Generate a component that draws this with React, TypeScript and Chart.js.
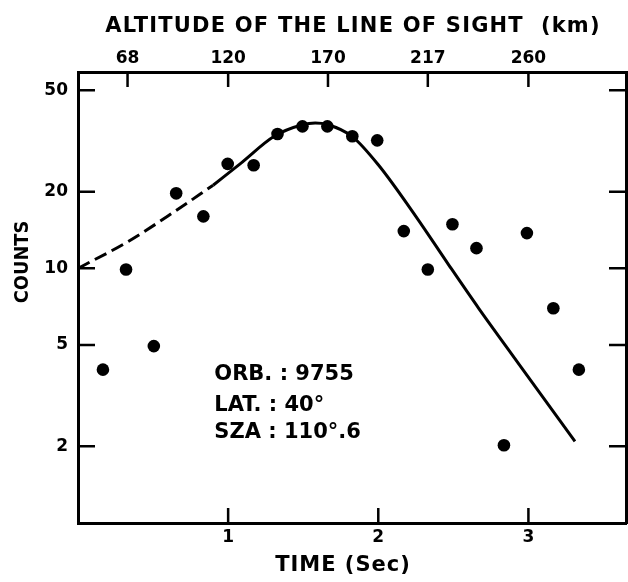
import React, { useEffect, useRef } from 'react';
import { Chart, registerables } from 'chart.js';

Chart.register(...registerables);

// Observed counts (dots)
const obsTimes = [0.166, 0.32, 0.505, 0.654, 0.835, 0.997, 1.17, 1.329, 1.495, 1.661, 1.827, 1.993, 2.17, 2.33, 2.494, 2.654, 2.837, 2.99, 3.166, 3.336];
const obsCounts = [4.0, 9.9, 4.95, 19.7, 16.0, 25.7, 25.4, 33.7, 36.1, 36.1, 33.0, 31.8, 14.0, 9.9, 14.9, 12.0, 2.02, 13.75, 6.97, 4.0];

// Model curve: dashed part, then solid part
const fitDashTimes = [0, 0.33, 0.643, 0.9];
const fitDashCounts = [10, 12.7, 16.7, 21.2];
const fitSolidTimes = [0.9, 1.086, 1.307, 1.495, 1.58, 1.661, 1.827, 2.0, 2.25, 2.47, 2.67, 2.85, 3.02, 3.31];
const fitSolidCounts = [21.2, 25.9, 33.0, 36.6, 37.2, 36.7, 32.9, 25.5, 16.0, 10.3, 6.95, 4.95, 3.6, 2.09];

// Axes
const timeTicks = [1, 2, 3];
const countTicks = [2, 5, 10, 20, 50];
const altitudeTickTimes = [0.33, 1.0, 1.665, 2.33, 3.0];
const altitudeLabels = ['68', '120', '170', '217', '260'];

// Annotation
const infoLines = ['ORB. : 9755', 'LAT. : 40°', 'SZA : 110°.6'];
const infoTime = 0.908;
const infoCounts = [3.83, 2.88, 2.27];

const FONT = '"DejaVu Sans", sans-serif';

export default function App() {
  const ref = useRef<HTMLCanvasElement | null>(null);

  useEffect(() => {
    if (!ref.current) return;

    const decor = {
      id: 'decor',
      afterDraw(chart: any) {
        const { ctx, chartArea, scales } = chart;
        const { left, right, top, bottom } = chartArea;
        ctx.save();
        ctx.strokeStyle = '#000';
        ctx.lineWidth = 2.5;
        ctx.beginPath();
        timeTicks.forEach((v) => {
          const px = scales.x.getPixelForValue(v);
          ctx.moveTo(px, bottom);
          ctx.lineTo(px, bottom - 15);
        });
        altitudeTickTimes.forEach((v) => {
          const px = scales.x2.getPixelForValue(v);
          ctx.moveTo(px, top);
          ctx.lineTo(px, top + 15);
        });
        countTicks.forEach((v) => {
          const py = scales.y.getPixelForValue(v);
          ctx.moveTo(left, py);
          ctx.lineTo(left + 17, py);
          const py2 = scales.y2.getPixelForValue(v);
          ctx.moveTo(right, py2);
          ctx.lineTo(right - 17, py2);
        });
        ctx.stroke();

        ctx.fillStyle = '#000';
        // annotation
        ctx.font = `bold 21px ${FONT}`;
        ctx.textAlign = 'left';
        ctx.textBaseline = 'middle';
        infoLines.forEach((t, i) => {
          ctx.fillText(t, scales.x.getPixelForValue(infoTime), scales.y.getPixelForValue(infoCounts[i]));
        });

        // axis titles
        ctx.textAlign = 'center';
        ctx.font = `bold 21px ${FONT}`;
        (ctx as any).letterSpacing = '1.2px';
        ctx.fillText('ALTITUDE OF THE LINE OF SIGHT  (km)', 353, 27);
        (ctx as any).letterSpacing = '1px';
        ctx.fillText('TIME (Sec)', 343, 566);
        (ctx as any).letterSpacing = '0px';
        ctx.save();
        ctx.translate(23, 262);
        ctx.rotate(-Math.PI / 2);
        ctx.scale(0.89, 1);
        ctx.font = `bold 20px ${FONT}`;
        ctx.fillText('COUNTS', 0, 0);
        ctx.restore();
        ctx.restore();
      },
    };

    const tickFont = { family: FONT, size: 17, weight: 'bold' as const };
    const noPadX = (h: number) => (s: any) => {
      s.height = h;
      s.paddingLeft = 0;
      s.paddingRight = 0;
    };
    const noPadY = (w: number) => (s: any) => {
      s.width = w;
      s.paddingTop = 0;
      s.paddingBottom = 0;
    };

    const chart = new Chart(ref.current, {
      type: 'scatter',
      data: {
        datasets: [
          {
            label: 'model (dashed)',
            data: fitDashTimes.map((x, i) => ({ x, y: fitDashCounts[i] })),
            showLine: true,
            borderColor: '#000',
            borderWidth: 3,
            borderDash: [13, 6],
            pointRadius: 0,
            cubicInterpolationMode: 'monotone',
            xAxisID: 'x',
            yAxisID: 'y',
          } as any,
          {
            label: 'model',
            data: fitSolidTimes.map((x, i) => ({ x, y: fitSolidCounts[i] })),
            showLine: true,
            borderColor: '#000',
            borderWidth: 3,
            pointRadius: 0,
            cubicInterpolationMode: 'monotone',
            xAxisID: 'x',
            yAxisID: 'y',
          } as any,
          {
            label: 'counts',
            data: obsTimes.map((x, i) => ({ x, y: obsCounts[i] })),
            showLine: false,
            pointRadius: 6.3,
            pointBackgroundColor: '#000',
            pointBorderWidth: 0,
            backgroundColor: '#000',
            xAxisID: 'x',
            yAxisID: 'y',
          } as any,
        ],
      },
      options: {
        responsive: false,
        animation: false,
        devicePixelRatio: 1,
        layout: { padding: 0, autoPadding: false },
        plugins: { legend: { display: false }, tooltip: { enabled: false } },
        scales: {
          x: {
            type: 'linear',
            position: 'bottom',
            min: 0,
            max: 3.65,
            afterBuildTicks: (s: any) => {
              s.ticks = timeTicks.map((v) => ({ value: v }));
            },
            afterFit: noPadX(59),
            ticks: {
              autoSkip: false,
              maxRotation: 0,
              color: '#000',
              font: tickFont,
              padding: 4,
              callback: (v: any) => String(v),
            },
            grid: { display: false, drawTicks: false },
            border: { display: true, color: '#000', width: 3 },
          },
          x2: {
            type: 'linear',
            position: 'top',
            display: true,
            min: 0,
            max: 3.65,
            afterBuildTicks: (s: any) => {
              s.ticks = altitudeTickTimes.map((v) => ({ value: v }));
            },
            afterFit: noPadX(72),
            ticks: {
              autoSkip: false,
              maxRotation: 0,
              color: '#000',
              font: tickFont,
              padding: 3,
              callback: (_v: any, i: number) => altitudeLabels[i],
            },
            grid: { display: false, drawTicks: false },
            border: { display: true, color: '#000', width: 3 },
          },
          y: {
            type: 'logarithmic',
            position: 'left',
            min: 1,
            max: 59,
            afterBuildTicks: (s: any) => {
              s.ticks = countTicks.map((v) => ({ value: v }));
            },
            afterFit: noPadY(78),
            ticks: {
              autoSkip: false,
              color: '#000',
              font: tickFont,
              padding: 10,
              callback: (v: any) => String(v),
            },
            grid: { display: false, drawTicks: false },
            border: { display: true, color: '#000', width: 3 },
          },
          y2: {
            type: 'logarithmic',
            position: 'right',
            display: true,
            min: 1,
            max: 59,
            afterBuildTicks: (s: any) => {
              s.ticks = countTicks.map((v) => ({ value: v }));
            },
            afterFit: noPadY(2),
            ticks: { display: false },
            grid: { display: false, drawTicks: false },
            border: { display: true, color: '#000', width: 3 },
          },
        },
      } as any,
      plugins: [decor],
    });

    return () => chart.destroy();
  }, []);

  return (
    <div style={{ position: 'absolute', left: 0, top: 0, width: 628, height: 582, background: '#fff' }}>
      <canvas ref={ref} width={628} height={582} style={{ display: 'block' }} />
    </div>
  );
}
